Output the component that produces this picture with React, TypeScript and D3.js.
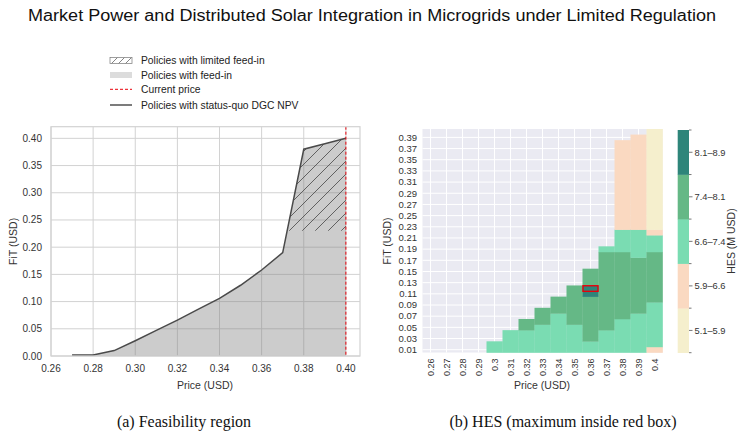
import * as d3 from 'd3';

// ---- left panel: feasibility region ----
const npvPrice = [0.27, 0.28, 0.29, 0.30, 0.31, 0.32, 0.33, 0.34, 0.35, 0.36, 0.37, 0.38, 0.39, 0.40];
const npvFit = [0.002, 0.002, 0.01, 0.028, 0.047, 0.066, 0.086, 0.106, 0.13, 0.158, 0.19, 0.38, 0.39, 0.40];
const limitedFeedInFloor = 0.23;
const currentPrice = 0.40;
const leftXTicks = [0.26, 0.28, 0.30, 0.32, 0.34, 0.36, 0.38, 0.40];
const leftYTicks = [0, 0.05, 0.1, 0.15, 0.2, 0.25, 0.3, 0.35, 0.4];

// ---- right panel: HES heatmap ----
const heatPrices = ['0.26', '0.27', '0.28', '0.29', '0.3', '0.31', '0.32', '0.33', '0.34', '0.35', '0.36', '0.37', '0.38', '0.39', '0.4'];
const heatFits = [
  0.40, 0.39, 0.38, 0.37, 0.36, 0.35, 0.34, 0.33, 0.32, 0.31,
  0.30, 0.29, 0.28, 0.27, 0.26, 0.25, 0.24, 0.23, 0.22, 0.21,
  0.20, 0.19, 0.18, 0.17, 0.16, 0.15, 0.14, 0.13, 0.12, 0.11,
  0.10, 0.09, 0.08, 0.07, 0.06, 0.05, 0.04, 0.03, 0.02, 0.01,
];
const heatFitTicks = [0.39, 0.37, 0.35, 0.33, 0.31, 0.29, 0.27, 0.25, 0.23, 0.21, 0.19, 0.17, 0.15, 0.13, 0.11, 0.09, 0.07, 0.05, 0.03, 0.01];
// runs of equal HES: [price, fit from, fit to, HES (M USD)]
const hesRuns: [string, number, number, number][] = [
  ['0.3', 0.01, 0.02, 7.0],
  ['0.31', 0.01, 0.04, 7.0],
  ['0.32', 0.01, 0.04, 7.0], ['0.32', 0.05, 0.06, 7.7],
  ['0.33', 0.01, 0.05, 7.0], ['0.33', 0.06, 0.08, 7.7],
  ['0.34', 0.01, 0.07, 7.0], ['0.34', 0.08, 0.10, 7.7],
  ['0.35', 0.01, 0.05, 7.1], ['0.35', 0.06, 0.12, 7.8],
  ['0.36', 0.01, 0.02, 7.1], ['0.36', 0.03, 0.10, 7.9], ['0.36', 0.11, 0.12, 8.5], ['0.36', 0.13, 0.15, 7.8],
  ['0.37', 0.01, 0.04, 7.1], ['0.37', 0.05, 0.18, 7.8], ['0.37', 0.19, 0.19, 7.0],
  ['0.38', 0.01, 0.06, 7.1], ['0.38', 0.07, 0.18, 7.7], ['0.38', 0.19, 0.22, 6.9], ['0.38', 0.23, 0.38, 6.2],
  ['0.39', 0.01, 0.07, 7.1], ['0.39', 0.08, 0.17, 7.6], ['0.39', 0.18, 0.22, 6.9], ['0.39', 0.23, 0.39, 6.1],
  ['0.4', 0.01, 0.01, 6.3], ['0.4', 0.02, 0.09, 7.0], ['0.4', 0.10, 0.18, 7.6], ['0.4', 0.19, 0.21, 6.8], ['0.4', 0.22, 0.22, 6.3], ['0.4', 0.23, 0.40, 5.5],
];
const bestCell = { price: '0.36', fit: 0.12 };
const hesBreaks = [5.9, 6.6, 7.4, 8.1];
const hesBinLabels = ['5.1–5.9', '5.9–6.6', '6.6–7.4', '7.4–8.1', '8.1–8.9'];
const hesColors = ['#f5efcd', '#fad9c1', '#7adcb2', '#65b886', '#2e857a'];

const font = '"Liberation Sans", Arial, sans-serif';
const tickColor = '#333';

export default function App() {
  // left scales
  const L = { left: 51, right: 360, top: 126.7, bottom: 356 };
  const x = d3.scaleLinear().domain([0.26, 0.4067]).range([L.left, L.right]);
  const y = d3.scaleLinear().domain([0, 0.4214]).range([L.bottom, L.top]);
  const pts = npvPrice.map((p, i) => [p, npvFit[i]] as [number, number]);

  const area = d3.area<[number, number]>().x(d => x(d[0])).y0(y(0)).y1(d => y(d[1]));
  const line = d3.line<[number, number]>().x(d => x(d[0])).y(d => y(d[1]));

  // hatched part: region of the line above the limited feed-in floor
  const k = pts.findIndex(d => d[1] > limitedFeedInFloor);
  const a = pts[k - 1], b = pts[k];
  const crossP = a[0] + (limitedFeedInFloor - a[1]) / (b[1] - a[1]) * (b[0] - a[0]);
  const hatchPts: [number, number][] = [[crossP, limitedFeedInFloor], ...pts.slice(k), [currentPrice, limitedFeedInFloor]];
  const hatchPath = d3.line<[number, number]>().x(d => x(d[0])).y(d => y(d[1]))(hatchPts) + 'Z';

  // right scales
  const xb = d3.scaleBand().domain(heatPrices).range([422.5, 662.5]);
  const yb = d3.scaleBand().domain(heatFits.map(f => f.toFixed(2))).range([129, 352.5]);
  const color = d3.scaleThreshold<number, string>().domain(hesBreaks).range(hesColors);
  const cb = d3.scaleBand().domain([...hesBinLabels].reverse()).range([130, 352.7]);
  const cbX = 677.7, cbW = 11.3;

  const yCenter = (f: number) => (yb(f.toFixed(2)) as number) + yb.bandwidth() / 2;

  return (
    <svg width={744} height={437} style={{ position: 'absolute', left: 0, top: 0, background: '#fff' }} fontFamily={font}>
      <defs>
        <pattern id="hatch" patternUnits="userSpaceOnUse" width={13} height={13}>
          <path d="M-1,1 L1,-1 M0,13 L13,0 M12,14 L14,12" stroke="#555" strokeWidth={0.9} />
        </pattern>
        <pattern id="hatchSmall" patternUnits="userSpaceOnUse" width={7} height={7}>
          <path d="M-1,1 L1,-1 M0,7 L7,0 M6,8 L8,6" stroke="#666" strokeWidth={0.8} />
        </pattern>
        <clipPath id="leftClip">
          <rect x={L.left} y={L.top} width={L.right - L.left} height={L.bottom - L.top} />
        </clipPath>
      </defs>

      <text x={372} y={21} textAnchor="middle" fontSize={16} fill="#111" textLength={688} lengthAdjust="spacingAndGlyphs">
        Market Power and Distributed Solar Integration in Microgrids under Limited Regulation
      </text>

      {/* legend */}
      <g fontSize={10.3} fill="#222">
        <rect x={110} y={57.5} width={22} height={6} fill="url(#hatchSmall)" stroke="#888" strokeWidth={0.8} />
        <text x={141} y={63.5}>Policies with limited feed-in</text>
        <rect x={110} y={72} width={22} height={6} fill="#dcdcdc" />
        <text x={141} y={78.5}>Policies with feed-in</text>
        <line x1={110} x2={132} y1={89.3} y2={89.3} stroke="#e8000b" strokeWidth={1} strokeDasharray="3,2" />
        <text x={141} y={93}>Current price</text>
        <line x1={110} x2={132} y1={105} y2={105} stroke="#444" strokeWidth={1.4} />
        <text x={141} y={108.5}>Policies with status-quo DGC NPV</text>
      </g>

      {/* left panel */}
      <g>
        {leftXTicks.map(t => (
          <line key={'gx' + t} x1={x(t)} x2={x(t)} y1={L.top} y2={L.bottom} stroke="#d2d2d2" strokeWidth={1} />
        ))}
        {leftYTicks.map(t => (
          <line key={'gy' + t} x1={L.left} x2={L.right} y1={y(t)} y2={y(t)} stroke="#d2d2d2" strokeWidth={1} />
        ))}
        <g clipPath="url(#leftClip)">
          <path d={area(pts) as string} fill="#808080" fillOpacity={0.4} />
          <path d={hatchPath} fill="url(#hatch)" />
          <path d={line(pts) as string} fill="none" stroke="#4a4a4a" strokeWidth={1.5} />
          <line x1={x(currentPrice)} x2={x(currentPrice)} y1={L.top} y2={L.bottom} stroke="#e8000b" strokeWidth={1} strokeDasharray="3,2" />
        </g>
        <rect x={L.left} y={L.top} width={L.right - L.left} height={L.bottom - L.top} fill="none" stroke="#d2d2d2" strokeWidth={1.2} />
        {leftXTicks.map(t => (
          <text key={'tx' + t} x={x(t)} y={372} textAnchor="middle" fontSize={10} fill={tickColor}>{t.toFixed(2)}</text>
        ))}
        {leftYTicks.map(t => (
          <text key={'ty' + t} x={42} y={y(t) + 3.5} textAnchor="end" fontSize={10} fill={tickColor}>{t.toFixed(2)}</text>
        ))}
        <text x={205} y={389} textAnchor="middle" fontSize={10.5} fill={tickColor}>Price (USD)</text>
        <text transform={`translate(17,${(L.top + L.bottom) / 2}) rotate(-90)`} textAnchor="middle" fontSize={10.5} fill={tickColor}>FiT (USD)</text>
      </g>

      {/* right panel */}
      <g>
        <rect x={422.5} y={129} width={240} height={223.5} fill="#eaeaf2" />
        {heatPrices.map(p => (
          <line key={'hx' + p} x1={(xb(p) as number) + xb.bandwidth() / 2} x2={(xb(p) as number) + xb.bandwidth() / 2} y1={129} y2={352.5} stroke="#fff" strokeWidth={1} />
        ))}
        {heatFitTicks.map(f => (
          <line key={'hy' + f} x1={422.5} x2={662.5} y1={yCenter(f)} y2={yCenter(f)} stroke="#fff" strokeWidth={1} />
        ))}
        {hesRuns.map(([p, lo, hi, v], i) => {
          const top = yb(hi.toFixed(2)) as number;
          const bottom = (yb(lo.toFixed(2)) as number) + yb.bandwidth();
          return <rect key={'c' + i} x={xb(p)} y={top} width={xb.bandwidth() + 0.3} height={bottom - top + 0.3} fill={color(v)} />;
        })}
        <rect x={(xb(bestCell.price) as number) + 0.5} y={(yb(bestCell.fit.toFixed(2)) as number) + 0.3} width={xb.bandwidth() - 1} height={yb.bandwidth()} fill="none" stroke="#e8000b" strokeWidth={1.4} />
        {heatFitTicks.map(f => (
          <text key={'hty' + f} x={417} y={yCenter(f) + 3.3} textAnchor="end" fontSize={9.5} fill={tickColor}>{f.toFixed(2)}</text>
        ))}
        {heatPrices.map(p => (
          <text key={'htx' + p} transform={`translate(${(xb(p) as number) + xb.bandwidth() / 2 + 3.3},${358.5}) rotate(-90)`} textAnchor="end" fontSize={9} fill={tickColor}>{p}</text>
        ))}
        <text x={542} y={389} textAnchor="middle" fontSize={10.5} fill={tickColor}>Price (USD)</text>
        <text transform={`translate(391,241) rotate(-90)`} textAnchor="middle" fontSize={10.5} fill={tickColor}>FiT (USD)</text>

        {/* colorbar */}
        {hesBinLabels.map((lab, i) => (
          <rect key={'cb' + lab} x={cbX} y={cb(lab)} width={cbW} height={cb.bandwidth() + 0.3} fill={hesColors[i]} />
        ))}
        {[0, 1, 2, 3, 4, 5].map(i => {
          const yy = 130 + i * cb.bandwidth();
          return <line key={'cbm' + i} x1={cbX + cbW} x2={cbX + cbW + 2.5} y1={yy} y2={yy} stroke="#555" strokeWidth={0.8} />;
        })}
        {hesBinLabels.map(lab => {
          const yy = (cb(lab) as number) + cb.bandwidth() / 2;
          return (
            <g key={'cbl' + lab}>
              <line x1={cbX + cbW} x2={cbX + cbW + 3.5} y1={yy} y2={yy} stroke="#555" strokeWidth={0.8} />
              <text x={cbX + cbW + 5.5} y={yy + 3.3} fontSize={9.3} fill={tickColor}>{lab}</text>
            </g>
          );
        })}
        <text transform={`translate(734.5,241) rotate(-90)`} textAnchor="middle" fontSize={10.5} fill={tickColor}>HES (M USD)</text>
      </g>

      {/* captions */}
      <g fontFamily={'"Liberation Serif", "Times New Roman", serif'} fontSize={16} fill="#111">
        <text x={184} y={427} textAnchor="middle">(a) Feasibility region</text>
        <text x={563} y={427} textAnchor="middle">(b) HES (maximum inside red box)</text>
      </g>
    </svg>
  );
}
